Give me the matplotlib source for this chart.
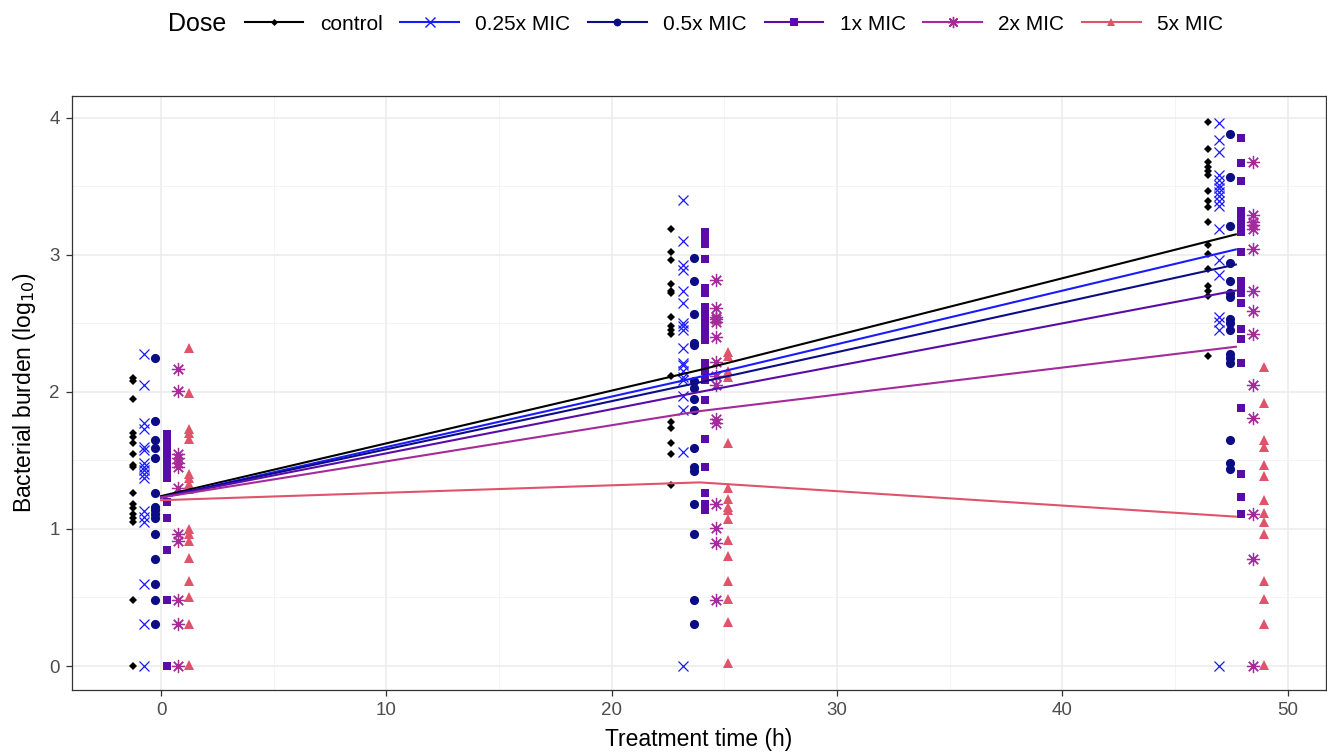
import matplotlib
matplotlib.use("Agg")
import matplotlib.pyplot as plt
from matplotlib.lines import Line2D

plt.rcParams["font.family"] = ["Liberation Sans", "DejaVu Sans"]

# ---- data -------------------------------------------------------------
doses = ["control", "0.25x MIC", "0.5x MIC", "1x MIC", "2x MIC", "5x MIC"]
times = [0, 23.9, 47.7]

# observed log10 burden, per dose, per time point
obs_control = [
    [2.10, 2.08, 1.95, 1.70, 1.67, 1.63, 1.55, 1.47, 1.45, 1.26, 1.18, 1.15, 1.11, 1.08, 1.05, 0.48, 0.0],
    [3.19, 3.02, 2.96, 2.79, 2.74, 2.72, 2.55, 2.48, 2.45, 2.42, 2.12, 1.78, 1.74, 1.63, 1.55, 1.32],
    [3.97, 3.77, 3.68, 3.64, 3.61, 3.58, 3.47, 3.39, 3.35, 3.24, 3.07, 3.01, 2.90, 2.77, 2.74, 2.70, 2.26],
]
obs_025 = [
    [2.28, 2.05, 1.77, 1.73, 1.60, 1.58, 1.48, 1.45, 1.43, 1.40, 1.37, 1.13, 1.09, 1.05, 0.60, 0.31, 0.0],
    [3.40, 3.10, 2.93, 2.89, 2.74, 2.65, 2.50, 2.48, 2.45, 2.32, 2.21, 2.20, 2.15, 2.11, 2.09, 1.97, 1.87, 1.56, 0.0],
    [3.96, 3.84, 3.75, 3.58, 3.55, 3.51, 3.49, 3.46, 3.43, 3.39, 3.36, 3.19, 2.96, 2.85, 2.55, 2.51, 2.45, 0.0],
]
obs_05 = [
    [2.25, 1.79, 1.65, 1.59, 1.52, 1.26, 1.16, 1.14, 1.11, 1.08, 0.96, 0.78, 0.60, 0.48, 0.31],
    [2.98, 2.81, 2.57, 2.36, 2.34, 2.08, 2.03, 1.95, 1.87, 1.59, 1.45, 1.42, 1.18, 0.96, 0.48, 0.31],
    [3.88, 3.57, 3.21, 2.94, 2.81, 2.72, 2.69, 2.53, 2.50, 2.45, 2.28, 2.25, 2.21, 1.65, 1.48, 1.44],
]
obs_1 = [
    [1.69, 1.65, 1.61, 1.57, 1.53, 1.49, 1.45, 1.41, 1.37, 1.20, 1.08, 0.85, 0.48, 0.0],
    [3.17, 3.12, 3.08, 2.97, 2.76, 2.72, 2.62, 2.58, 2.53, 2.48, 2.43, 2.38, 2.21, 2.15, 2.09, 1.94, 1.66, 1.45, 1.26, 1.18, 1.14],
    [3.85, 3.67, 3.54, 3.32, 3.28, 3.24, 3.21, 3.17, 3.02, 2.81, 2.77, 2.72, 2.65, 2.46, 2.39, 2.21, 1.88, 1.40, 1.23, 1.11],
]
obs_2 = [
    [2.17, 2.01, 1.55, 1.52, 1.48, 1.45, 1.30, 0.96, 0.91, 0.48, 0.31, 0.0],
    [2.82, 2.61, 2.55, 2.53, 2.51, 2.40, 2.22, 2.12, 2.05, 1.80, 1.77, 1.18, 1.01, 0.90, 0.48],
    [3.68, 3.29, 3.24, 3.22, 3.19, 3.04, 2.74, 2.59, 2.42, 2.05, 1.81, 1.11, 0.78, 0.0],
]
obs_5 = [
    [2.32, 1.99, 1.73, 1.70, 1.66, 1.40, 1.37, 1.33, 1.29, 1.00, 0.96, 0.91, 0.79, 0.62, 0.50, 0.31, 0.01],
    [2.29, 2.26, 2.15, 2.11, 1.63, 1.30, 1.22, 1.16, 1.14, 1.07, 0.92, 0.80, 0.62, 0.49, 0.32, 0.02],
    [2.18, 1.92, 1.65, 1.60, 1.47, 1.39, 1.21, 1.12, 1.05, 0.96, 0.62, 0.49, 0.31, 0.01],
]
observed = [obs_control, obs_025, obs_05, obs_1, obs_2, obs_5]

# fitted mean curves
fit_control = [1.24, 2.16, 3.15]
fit_025 = [1.23, 2.11, 3.04]
fit_05 = [1.23, 2.07, 2.93]
fit_1 = [1.23, 2.00, 2.74]
fit_2 = [1.23, 1.86, 2.33]
fit_5 = [1.21, 1.34, 1.09]
fitted = [fit_control, fit_025, fit_05, fit_1, fit_2, fit_5]

# ---- style ------------------------------------------------------------
colors = ["#000000", "#1a1aff", "#0c0c86", "#5a0ca8", "#a52a9a", "#df536b"]
markers = ["D", "x", "o", "s", (8, 2, 0), "^"]
msizes = [4.2, 7.8, 6.6, 6.3, 9.5, 7.4]
dodge = 0.5

fig = plt.figure(figsize=(13.27, 7.54), dpi=100)
ax = fig.add_axes([0.0543, 0.0849, 0.9449, 0.7878])

for i, (obs, c, m, ms) in enumerate(zip(observed, colors, markers, msizes)):
    off = (i - 2.5) * dodge
    for t, ys in zip(times, obs):
        ax.plot([t + off] * len(ys), ys, ls="none", marker=m, ms=ms, color=c,
                mew=0.9 if m in ("x", (8, 2, 0)) else 0.0, zorder=3)

for fit, c in zip(fitted, colors):
    ax.plot(times, fit, color=c, lw=1.5, zorder=4)

ax.set_xlim(-3.95, 51.7)
ax.set_ylim(-0.175, 4.16)
ax.set_xticks([0, 10, 20, 30, 40, 50])
ax.set_xticks([5, 15, 25, 35, 45], minor=True)
ax.set_yticks([0, 1, 2, 3, 4])
ax.set_yticks([0.5, 1.5, 2.5, 3.5], minor=True)
ax.grid(which="major", color="#ebebeb", lw=1.1, zorder=0)
ax.grid(which="minor", color="#f2f2f2", lw=0.6, zorder=0)
ax.set_axisbelow(True)
for s in ax.spines.values():
    s.set_color("#333333")
    s.set_linewidth(0.9)
ax.tick_params(which="major", length=4, width=0.9, color="#333333",
               labelsize=13.5, labelcolor="#4d4d4d", pad=5)
ax.tick_params(which="minor", length=0)
ax.set_xlabel("Treatment time (h)", fontsize=16.5, labelpad=6)
ax.set_ylabel("Bacterial burden (log$_{10}$)", fontsize=16.5, labelpad=8)

handles = [Line2D([], [], color=c, lw=1.5, marker=m, ms=ms * 0.85,
                  mew=1.0 if m in ("x", (8, 2, 0)) else 0.0)
           for c, m, ms in zip(colors, markers, msizes)]
fig.text(168 / 1327, 1 - 24 / 754, "Dose", fontsize=18, va="center", ha="left")
fig.legend(handles, doses, loc="center left", bbox_to_anchor=(245 / 1327, 1 - 24 / 754),
           ncol=6, frameon=False, fontsize=15, handlelength=2.8, handletextpad=0.8,
           columnspacing=0.85, borderpad=0, borderaxespad=0)

fig.savefig("out.png", dpi=100)
